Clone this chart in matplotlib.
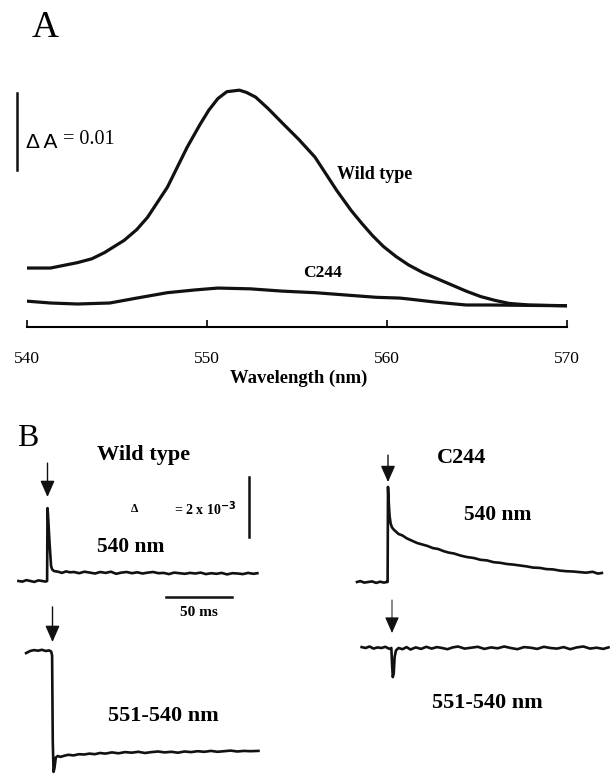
import matplotlib
matplotlib.use('Agg')
import matplotlib.pyplot as plt

plt.rcParams['font.family'] = 'Liberation Serif'

# --- panel A: difference spectra (units of 1e-3 absorbance) ---
wl_wt = [540.0, 541.3, 542.8, 543.6, 544.3, 545.4, 546.1, 546.7, 547.8, 548.9, 549.6,
         550.1, 550.6, 551.1, 551.8, 552.2, 552.7, 553.4, 554.2, 555.1, 556.0, 557.2,
         558.0, 558.6, 559.2, 559.8, 560.5, 561.2, 562.0, 562.8, 563.6, 564.4, 565.2,
         566.0, 566.8, 567.9, 570.0]
a_wt = [4.8, 4.8, 5.5, 6.0, 6.8, 8.4, 9.8, 11.4, 15.3, 20.5, 23.4,
        25.3, 26.8, 27.7, 27.9, 27.6, 27.0, 25.5, 23.6, 21.5, 19.2, 14.9,
        12.3, 10.6, 9.0, 7.6, 6.3, 5.2, 4.2, 3.4, 2.6, 1.8, 1.1,
        0.6, 0.2, 0.0, -0.1]

wl_c244 = [540.0, 541.3, 542.8, 544.6, 546.1, 547.8, 549.3, 550.6, 552.4, 554.2,
           556.0, 557.7, 559.4, 560.7, 561.2, 562.6, 563.8, 564.4, 565.7, 570.0]
a_c244 = [0.5, 0.26, 0.13, 0.26, 0.9, 1.6, 1.95, 2.2, 2.1, 1.8,
          1.6, 1.3, 1.0, 0.9, 0.78, 0.4, 0.13, 0.0, 0.0, -0.1]

wl_ticks = [540, 550, 560, 570]

# --- panel B: flash-induced kinetics (time in ms, signal in 1e-3 absorbance) ---
t_wt540 = [-22, -19, -16, -13, -10, -7, -4, -1.5, -0.3, 0, 0.4, 1.5, 2.7, 3.6, 5, 8, 11,
           14, 17, 20, 24, 28, 32, 36, 40, 44, 48, 52, 56, 60, 64, 68, 72, 76, 80, 84,
           88, 92, 96, 100, 104, 108, 112, 116, 120, 124, 128, 132, 136, 140, 144, 148,
           152, 156, 159]
v_wt540 = [0.0, -0.02, 0.03, 0.0, -0.03, 0.02, 0.0, -0.02, 0.0, 2.43, 2.2, 1.3, 0.5, 0.38,
           0.33, 0.31, 0.27, 0.32, 0.29, 0.3, 0.26, 0.31, 0.28, 0.25, 0.3, 0.27, 0.31,
           0.24, 0.28, 0.3, 0.26, 0.29, 0.25, 0.28, 0.3, 0.26, 0.27, 0.23, 0.28, 0.26,
           0.24, 0.27, 0.25, 0.28, 0.23, 0.26, 0.24, 0.27, 0.22, 0.26, 0.25, 0.23, 0.27,
           0.24, 0.26]

t_wtdiff = [-20, -17, -14, -11, -8, -5, -2.5, -1, -0.3, 0.2, 0.8, 1.5, 2.5, 4, 6, 9, 12,
            16, 20, 24, 28, 32, 36, 40, 45, 50, 55, 60, 65, 70, 75, 80, 85, 90, 95, 100,
            105, 110, 115, 120, 125, 130, 135, 140, 145, 150, 156]
v_wtdiff = [-0.07, 0.0, 0.03, 0.01, 0.04, 0.0, 0.02, -0.02, -0.15, -3.0, -4.03, -3.9,
            -3.55, -3.5, -3.53, -3.49, -3.46, -3.48, -3.44, -3.45, -3.42, -3.44, -3.4,
            -3.42, -3.38, -3.41, -3.37, -3.39, -3.36, -3.4, -3.37, -3.35, -3.38, -3.36,
            -3.39, -3.35, -3.37, -3.34, -3.36, -3.33, -3.36, -3.34, -3.32, -3.35, -3.33,
            -3.34, -3.33]

t_c540 = [-23.5, -21, -18, -15, -12, -9, -6, -3, -1, -0.3, 0, 0.5, 1.2, 2, 3, 4.5, 6, 8,
          11, 14, 18, 22, 26, 30, 34, 38, 42, 46, 50, 55, 60, 65, 70, 75, 80, 85, 90, 95,
          100, 105, 110, 115, 120, 125, 130, 135, 140, 145, 150, 155, 159, 162]
v_c540 = [0.0, 0.03, -0.02, 0.0, 0.02, -0.03, 0.01, -0.02, 0.0, 0.0, 3.17, 2.7, 2.2, 1.95,
          1.82, 1.74, 1.68, 1.6, 1.55, 1.46, 1.38, 1.3, 1.25, 1.2, 1.13, 1.1, 1.03, 0.98,
          0.95, 0.88, 0.83, 0.8, 0.74, 0.72, 0.66, 0.64, 0.6, 0.58, 0.55, 0.52, 0.48,
          0.47, 0.43, 0.42, 0.38, 0.36, 0.35, 0.33, 0.31, 0.34, 0.28, 0.3]

t_cdiff = [-23, -20, -17, -14, -11, -8, -5, -2, -0.5, 0, 0.6, 1.3, 2, 3, 5, 8, 11, 14, 18,
           22, 26, 30, 34, 38, 42, 46, 50, 55, 60, 65, 70, 75, 80, 85, 90, 95, 100, 105,
           110, 115, 120, 125, 130, 135, 140, 145, 150, 155, 160, 164]
v_cdiff = [0.03, 0.0, 0.05, -0.02, 0.02, 0.0, 0.04, -0.03, 0.0, -0.5, -0.97, -0.85, -0.3,
           -0.08, 0.0, -0.04, 0.03, -0.05, 0.02, -0.03, 0.04, -0.02, 0.03, 0.0, -0.04,
           0.02, 0.05, -0.02, 0.01, 0.04, -0.03, 0.02, -0.01, 0.05, 0.0, -0.04, 0.03,
           0.01, -0.03, 0.04, 0.0, -0.02, 0.03, -0.04, 0.02, 0.05, -0.02, 0.01, -0.03,
           0.02]

W, H = 610, 774
K = '#111111'
fig = plt.figure(figsize=(W / 100, H / 100), dpi=100)


def fx(px):
    return px / W


def fy(py):
    return 1 - py / H


# ---------------- panel A ----------------
A_PX = 7.7  # pixels per 1e-3 absorbance
ax_a = fig.add_axes([fx(27), fy(340), (567 - 27) / W, (340 - 60) / H])
ax_a.patch.set_alpha(0)
ax_a.plot(wl_wt, a_wt, color=K, lw=2.3, solid_capstyle='round', solid_joinstyle='round')
ax_a.plot(wl_c244, a_c244, color=K, lw=2.3, solid_capstyle='round', solid_joinstyle='round')
ax_a.set_xlim(540, 570)
ax_a.set_ylim((305 - 340) / A_PX, (305 - 60) / A_PX)
for s in ['top', 'right', 'left']:
    ax_a.spines[s].set_visible(False)
ax_a.spines['bottom'].set_position(('data', (305 - 327) / A_PX))
ax_a.spines['bottom'].set_linewidth(1.5)
ax_a.set_xticks(wl_ticks)
ax_a.set_yticks([])
ax_a.tick_params(axis='x', direction='in', length=5, width=1.2, pad=17, labelsize=12.5)

# scale bar 0.01
ax_a.plot([539.44, 539.44], [17.5, 27.5], color=K, lw=1.8, clip_on=False)
fig.text(fx(26), fy(142), 'Δ A', family='Liberation Sans', fontsize=15, va='center')
fig.text(fx(63), fy(139), '= 0.01', fontsize=14.5, va='center')

ax_a.text(559.3, 16.9, 'Wild type', fontsize=13, fontweight='bold', ha='center', va='center')
ax_a.text(556.4, 4.2, 'C244', fontsize=12.5, fontweight='bold', ha='center', va='center')
fig.text(fx(299), fy(378), 'Wavelength (nm)', fontsize=13.4, fontweight='bold',
         ha='center', va='center')
fig.text(fx(45), fy(28), 'A', fontsize=27, ha='center', va='center')

# ---------------- panel B ----------------
PX_MS = 1.32  # pixels per ms
PX_MD = 30.0  # pixels per 1e-3 absorbance


def trace_axes(x_flash, y_zero):
    ax = fig.add_axes([0, 0, 1, 1])
    ax.set_xlim(-x_flash / PX_MS, (W - x_flash) / PX_MS)
    ax.set_ylim((y_zero - H) / PX_MD, y_zero / PX_MD)
    ax.axis('off')
    ax.patch.set_alpha(0)
    return ax


def flash_arrow(ax, tail, tip, lw=1.0):
    ax.annotate('', xy=(0, tip), xytext=(0, tail),
                arrowprops=dict(arrowstyle='-|>,head_length=0.5,head_width=0.22',
                                color=K, lw=lw, mutation_scale=20, shrinkA=0, shrinkB=0))


ax1 = trace_axes(47.5, 581)
ax1.plot(t_wt540, v_wt540, color=K, lw=1.9)
flash_arrow(ax1, 3.93, 2.8)
# scale bars
ax1.plot([153, 153], [1.47, 3.47], color=K, lw=1.8)
ax1.plot([89.8, 139.8], [-0.53, -0.53], color=K, lw=1.8)

ax2 = trace_axes(52.5, 651)
ax2.plot(t_wtdiff, v_wtdiff, color=K, lw=1.9)
flash_arrow(ax2, 1.47, 0.3)

ax3 = trace_axes(388, 582)
ax3.plot(t_c540, v_c540, color=K, lw=1.9)
flash_arrow(ax3, 4.23, 3.33)

ax4 = trace_axes(392, 648)
ax4.plot(t_cdiff, v_cdiff, color=K, lw=1.9)
flash_arrow(ax4, 1.6, 0.5, lw=0.7)

fig.text(fx(28), fy(438), 'B', fontsize=23, ha='center', va='center')
fig.text(fx(144), fy(455), 'Wild type', fontsize=16, fontweight='bold', ha='center', va='center')
fig.text(fx(462), fy(458), 'C244', fontsize=16, fontweight='bold', ha='center', va='center')
fig.text(fx(131), fy(547), '540 nm', fontsize=15.5, fontweight='bold', ha='center', va='center')
fig.text(fx(498), fy(515), '540 nm', fontsize=15.5, fontweight='bold', ha='center', va='center')
fig.text(fx(163), fy(716), '551-540 nm', fontsize=16, fontweight='bold', ha='center', va='center')
fig.text(fx(487), fy(703), '551-540 nm', fontsize=16, fontweight='bold', ha='center', va='center')
fig.text(fx(135), fy(509), 'Δ', fontsize=8.5, fontweight='bold', ha='center', va='center')
fig.text(fx(205), fy(509), r'= 2 x 10$^{\mathbf{-3}}$', fontsize=10, fontweight='bold',
         ha='center', va='center')
fig.text(fx(199), fy(613), '50 ms', fontsize=11, fontweight='bold', ha='center', va='center')

fig.savefig('out.png', dpi=100)
